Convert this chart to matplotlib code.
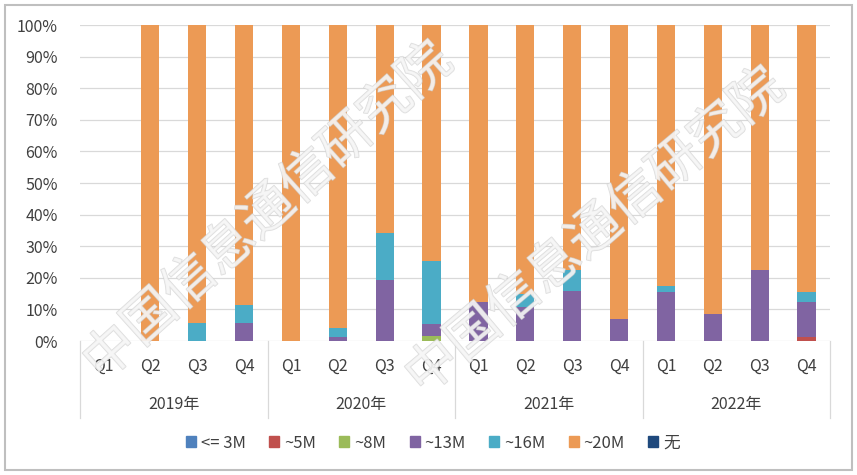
import matplotlib.pyplot as plt
import matplotlib.patches as mpatches
import matplotlib.patheffects as pe
import numpy as np

plt.rcParams['font.family'] = ['Noto Sans CJK SC', 'DejaVu Sans']

years = ['2019年', '2020年', '2021年', '2022年']
quarters = ['Q1', 'Q2', 'Q3', 'Q4']
series_names = ['<= 3M', '~5M', '~8M', '~13M', '~16M', '~20M', '无']
colors = ['#4F81BD', '#C0504D', '#9BBB59', '#8064A2', '#4BACC6', '#EC9A55', '#1F497D']

# percentages per quarter (2019Q1 .. 2022Q4)
le3m = [0, 0, 0, 0, 0, 0, 0, 0, 0, 0, 0, 0, 0, 0, 0, 0]
m5 = [0, 0, 0, 0, 0, 0, 0, 0, 0, 0, 0, 0, 0, 0, 0, 1.2]
m8 = [0, 0, 0, 0, 0, 0, 0, 1.5, 0, 0, 0, 0, 0, 0, 0, 0]
m13 = [0, 0, 0, 5.6, 0, 1.2, 19.4, 3.9, 12.3, 10.7, 15.8, 7.0, 15.4, 8.6, 22.6, 11.0]
m16 = [0, 0, 5.6, 5.8, 0, 3.0, 14.7, 19.9, 0, 4.3, 6.8, 0, 2.1, 0, 0, 3.2]
m20 = [0, 100, 94.4, 88.6, 100, 95.8, 65.9, 74.7, 87.7, 85.0, 77.4, 93.0, 82.5, 91.4, 77.4, 84.6]
none_ = [0] * 16

data = [le3m, m5, m8, m13, m16, m20, none_]

fig = plt.figure(figsize=(8.57, 4.75), dpi=100)
ax = fig.add_axes([80 / 857, 1 - 341 / 475, 750 / 857, 316 / 475])

x = np.arange(16)
bottom = np.zeros(16)
for vals, c in zip(data, colors):
    v = np.array(vals) / 100.0
    ax.bar(x, v, 0.39, bottom=bottom, color=c, zorder=2)
    bottom += v

ax.set_xlim(-0.5, 15.5)
ax.set_ylim(0, 1)
ax.set_yticks(np.arange(0, 1.01, 0.1))
ax.set_yticklabels(['%d%%' % (i * 10) for i in range(11)], fontsize=11.5, color='#404040')
ax.tick_params(axis='y', length=0, pad=16)
ax.set_xticks([])
for s in ax.spines.values():
    s.set_visible(False)
ax.grid(axis='y', color='#d9d9d9', linewidth=0.9, zorder=0)

# category labels
for i in range(16):
    ax.text(i, -25 / 316, quarters[i % 4], ha='center', va='center',
            fontsize=11.5, color='#404040', transform=ax.get_xaxis_transform())
for j, yr in enumerate(years):
    ax.text(j * 4 + 1.5, -64 / 316, yr, ha='center', va='center',
            fontsize=11.5, color='#404040', transform=ax.get_xaxis_transform())
for j in range(5):
    ax.plot([j * 4 - 0.5, j * 4 - 0.5], [0, -77 / 316], color='#d9d9d9',
            linewidth=0.9, clip_on=False, transform=ax.get_xaxis_transform())

# watermark
wm_fx = [pe.withStroke(linewidth=1.0, foreground='#cfcfcf')]
fig.text(268 / 857, 1 - 212 / 475, '中国信息通信研究院', fontsize=38, color='#f6f6f6',
         alpha=0.7, rotation=42, ha='center', va='center', zorder=10, path_effects=wm_fx)
fig.text(595 / 857, 1 - 232 / 475, '中国信息通信研究院', fontsize=38, color='#f6f6f6',
         alpha=0.7, rotation=40, ha='center', va='center', zorder=10, path_effects=wm_fx)

handles = [mpatches.Patch(color=c, label=n) for c, n in zip(colors, series_names)]
fig.legend(handles=handles, loc='center', bbox_to_anchor=(433 / 857, 1 - 443 / 475),
           ncol=7, frameon=False, fontsize=12, handlelength=0.6, handleheight=0.6,
           handletextpad=0.3, columnspacing=1.4, labelcolor='#404040')

fig.patches.append(mpatches.Rectangle((5 / 857, 5 / 475), 847 / 857, 465 / 475,
                                      transform=fig.transFigure, fill=False,
                                      edgecolor='#bfbfbf', linewidth=1.5))

fig.savefig('out.png', dpi=100)
